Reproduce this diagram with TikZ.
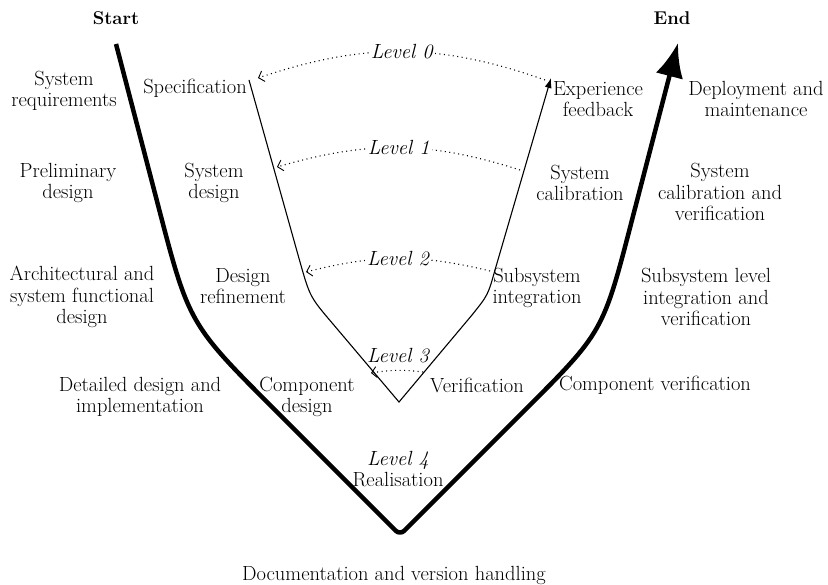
\documentclass[tikz,border=0pt]{standalone}
\usetikzlibrary{arrows.meta}
\begin{document}
\begin{tikzpicture}[x=1pt,y=1pt,
  lbl/.style={align=center, font=\fontsize{20.5}{21.5}\selectfont, inner sep=1pt},
  ttl/.style={font=\fontsize{18.5}{21}\selectfont\bfseries, inner sep=1pt},
  lvl/.style={font=\fontsize{20.5}{21.5}\selectfont\itshape, inner sep=2pt},
  outer/.style={line width=4.5pt, line join=round},
  inner/.style={line width=1.1pt, line join=miter},
  dots/.style={line width=1.1pt, dash pattern=on 1pt off 3.5pt, -{Straight Barb[length=5pt,width=11pt,line width=0.9pt]}}]
\useasboundingbox (0,0) rectangle (828,-585);

% outer V
\coordinate (o1) at (116,-44);
\coordinate (o2) at (158,-205);
\coordinate (o3) at (189,-324);
\coordinate (o4) at (276,-411);
\coordinate (ob) at (400,-535);
\coordinate (o5) at (521,-414);
\coordinate (o6) at (603,-332);
\coordinate (o7) at (632,-220);
\coordinate (o8) at (678,-43);
\draw[outer, -{Latex[length=34pt,width=28pt]}] (o1) -- (o2) .. controls (o3) .. (o4) [rounded corners=6pt] -- (ob) -- (o5) [sharp corners] .. controls (o6) .. (o7) -- (o8);

% inner V
\coordinate (i1) at (249,-80);
\coordinate (i2) at (300,-262);
\coordinate (i3) at (310,-297);
\coordinate (i4) at (333,-324);
\coordinate (ib) at (399,-402);
\coordinate (i5) at (472,-315);
\coordinate (i6) at (488,-295);
\coordinate (i7) at (495,-270);
\coordinate (i8) at (551,-78);
\draw[inner, -{Latex[length=10pt,width=7pt]}] (i1) -- (i2) .. controls (i3) .. (i4) -- (ib) -- (i5) .. controls (i6) .. (i7) -- (i8);

% level feedback arcs
\coordinate (a0r) at (545,-80);  \coordinate (a0l) at (258,-78);
\coordinate (a1r) at (520,-170); \coordinate (a1l) at (277,-167);
\coordinate (a2r) at (490,-271); \coordinate (a2l) at (306,-272);
\coordinate (a3r) at (423,-372); \coordinate (a3l) at (371,-373);
\draw[dots] (a0r) to[bend right=19] node[lvl, fill=white] (L0) {Level 0} (a0l);
\draw[dots] (a1r) to[bend right=17] node[lvl, fill=white] (L1) {Level 1} (a1l);
\draw[dots] (a2r) to[bend right=14] node[lvl, fill=white] (L2) {Level 2} (a2l);
\draw[dots] (a3r) to[bend right=8] (a3l);
\node[lvl] (L3) at (398,-356) {Level 3};
\node[lbl] (L4) at (398,-469) {\textit{Level 4}\\Realisation};

% titles
\node[ttl] (start) at (116,-18) {Start};
\node[ttl] (end) at (672,-18) {End};

% left column
\node[lbl] (sysreq) at (64,-91) {System\\requirements};
\node[lbl] (prelim) at (68,-183) {Preliminary\\design};
\node[lbl] (arch) at (82,-297) {Architectural and\\system functional\\design};
\node[lbl] (detail) at (140,-397) {Detailed design and\\implementation};

% inner left
\node[lbl] (spec) at (195,-88) {Specification};
\node[lbl] (sysdes) at (214,-183) {System\\design};
\node[lbl] (desref) at (243,-286) {Design\\refinement};
\node[lbl] (compdes) at (307,-397) {Component\\design};

% inner right
\node[lbl] (expfb) at (598,-99) {Experience\\feedback};
\node[lbl] (syscal) at (580,-183) {System\\calibration};
\node[lbl] (subint) at (537,-288) {Subsystem\\integration};
\node[lbl] (verif) at (477,-385) {Verification};

% right column
\node[lbl] (deploy) at (756,-99) {Deployment and\\maintenance};
\node[lbl] (syscalver) at (720,-192) {System\\calibration and\\verification};
\node[lbl] (subsys) at (706,-297) {Subsystem level\\integration and\\verification};
\node[lbl] (compver) at (655,-385) {Component verification};

\node[lbl] (doc) at (394,-575) {Documentation and version handling};
\end{tikzpicture}
\end{document}
